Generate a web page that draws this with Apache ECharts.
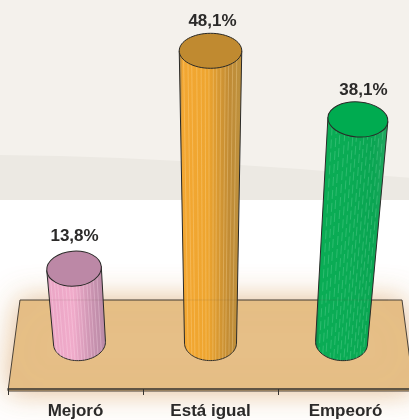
<!DOCTYPE html>
<html>
<head>
<meta charset="utf-8">
<style>
  html, body { margin: 0; background: #fff; overflow: hidden; }
  /* el eje sigue 4px mas alla del borde derecho, como en el original */
  #chart { width: 413px; height: 420px; }
</style>
<script src="https://cdn.jsdelivr.net/npm/echarts@6/dist/echarts.min.js"></script>
</head>
<body>
<div id="chart"></div>
<script>
var categories = ["Mejoró", "Está igual", "Empeoró"];
var values = [13.8, 48.1, 38.1];

// colores de cada cilindro
var sideColors = [
  ["#a9809c", "#eba6c6", "#f0abca", "#c691ae", "#b98aa6"],
  ["#8f7a55", "#f3a732", "#eea52f", "#c08b35", "#bd9240"],
  ["#0c7f45", "#0aac55", "#0aab54", "#0aa552", "#25a862"]
];
var topColors = ["#bc88a6", "#c08a30", "#00ab50"];
var streakColors = ["rgba(255,225,240,0.3)", "rgba(255,225,170,0.3)", "rgba(150,235,190,0.25)"];
var streakAt = [-0.86, -0.72, -0.6, -0.44, -0.3, -0.17, -0.05, 0.09, 0.2, 0.33, 0.47, 0.58, 0.71, 0.84];
var labelShift = [[0.5, -3], [2, 0], [5.5, 0]];

var chart = echarts.init(document.getElementById("chart"));

// perspectiva: los cilindros se abren hacia afuera segun la altura
var baseValue = 2.9;
var leanPerPx = 0.0733;
var growPerPx = 0.018;
var rollPx = 4;
var baseShift = 4;
var baseRx = 26;
var ry = 17.5;

function renderCylinder(params, api) {
  var i = api.value(0);
  var side = i - 1;
  var top = api.coord([i, api.value(1)]);
  var base = api.coord([i, baseValue]);
  var bx = base[0] - side * baseShift;
  var by = base[1];
  var ty = top[1] + side * rollPx;
  var h = by - ty;
  var tx = bx + side * leanPerPx * h;
  var rx = baseRx + growPerPx * h;
  var a = side * leanPerPx;
  var cos = Math.cos(a), sin = Math.sin(a);

  // contorno: lado izquierdo, media elipse de abajo, lado derecho
  var outline = [[tx - rx * cos, ty - rx * sin]];
  for (var s = 0; s <= 40; s++) {
    var ang = Math.PI - (s / 40) * Math.PI;
    var ex = baseRx * Math.cos(ang);
    var ey = ry * Math.sin(ang);
    outline.push([bx + ex * cos - ey * sin, by + ex * sin + ey * cos]);
  }
  outline.push([tx + rx * cos, ty + rx * sin]);

  var c = sideColors[i];
  var children = [
    {
      type: "polygon",
      shape: { points: outline },
      style: {
        fill: new echarts.graphic.LinearGradient(0, 0, 1, 0, [
          { offset: 0, color: c[0] },
          { offset: 0.06, color: c[1] },
          { offset: 0.45, color: c[2] },
          { offset: 0.8, color: c[3] },
          { offset: 1, color: c[4] }
        ]),
        stroke: "#2a2a28",
        lineWidth: 1
      }
    }
  ];

  streakAt.forEach(function (t, n) {
    var k = Math.sqrt(1 - t * t) * ry;
    children.push({
      type: "line",
      shape: {
        x1: tx + t * rx * cos,
        y1: ty + t * rx * sin + k,
        x2: bx + t * baseRx * cos,
        y2: by + t * baseRx * sin + k
      },
      style: {
        stroke: streakColors[i],
        lineWidth: 1,
        lineDash: i === 2 ? [9, 4] : null,
        lineDashOffset: n * 5
      }
    });
  });

  children.push({
    type: "ellipse",
    shape: { cx: 0, cy: 0, rx: rx, ry: ry },
    x: tx,
    y: ty,
    rotation: -a,
    style: { fill: topColors[i], stroke: "#2a2a28", lineWidth: 1 }
  });
  children.push({
    type: "text",
    style: {
      text: api.value(1).toFixed(1).replace(".", ",") + "%",
      x: tx + labelShift[i][0],
      y: ty - 29 + labelShift[i][1],
      textAlign: "center",
      textVerticalAlign: "middle",
      font: "bold 17px 'Liberation Sans', Arial, sans-serif",
      fill: "#2b2a29"
    }
  });

  return { type: "group", children: children };
}

var option = {
  animation: false,
  backgroundColor: "#ffffff",
  graphic: [
    { type: "rect", z: -5, shape: { x: 0, y: 0, width: 413, height: 200 }, style: { fill: "#f4f1ec" } },
    {
      type: "polygon",
      z: -4,
      shape: {
        points: [[0, 155], [60, 156], [120, 158], [180, 161], [240, 165], [300, 169], [360, 174], [413, 178], [413, 200], [0, 200]]
      },
      style: { fill: "#ece9e3" }
    },
    {
      type: "polygon",
      z: -3,
      shape: { points: [[20, 300], [402, 300], [414, 391], [8, 391]] },
      style: {
        fill: "#e6bf87",
        stroke: "#4a4238",
        lineWidth: 1,
        shadowBlur: 30,
        shadowColor: "rgba(215,160,100,0.7)"
      }
    },
    {
      type: "line",
      z: 6,
      shape: { x1: 48, y1: 300, x2: 388, y2: 300 },
      style: { stroke: "rgba(90,70,50,0.12)", lineWidth: 1 }
    }
  ],
  grid: { left: 8, right: 0, top: 1, height: 390 },
  xAxis: {
    type: "category",
    data: categories,
    z: 3,
    axisLine: { onZero: false, lineStyle: { color: "#35332f", width: 1.5 } },
    axisTick: { show: true, length: 6, lineStyle: { color: "#35332f", width: 1 } },
    axisLabel: {
      color: "#2b2a29",
      fontFamily: "'Liberation Sans', Arial, sans-serif",
      fontWeight: "bold",
      fontSize: 17,
      margin: 14,
      interval: 0
    }
  },
  yAxis: {
    type: "value",
    min: -4.2,
    max: 55.8,
    show: false,
    splitLine: { show: false }
  },
  series: [
    {
      type: "custom",
      clip: false,
      renderItem: renderCylinder,
      encode: { x: 0, y: 1 },
      data: values.map(function (v, i) {
        return [i, v];
      })
    }
  ]
};

chart.setOption(option);
</script>
</body>
</html>
